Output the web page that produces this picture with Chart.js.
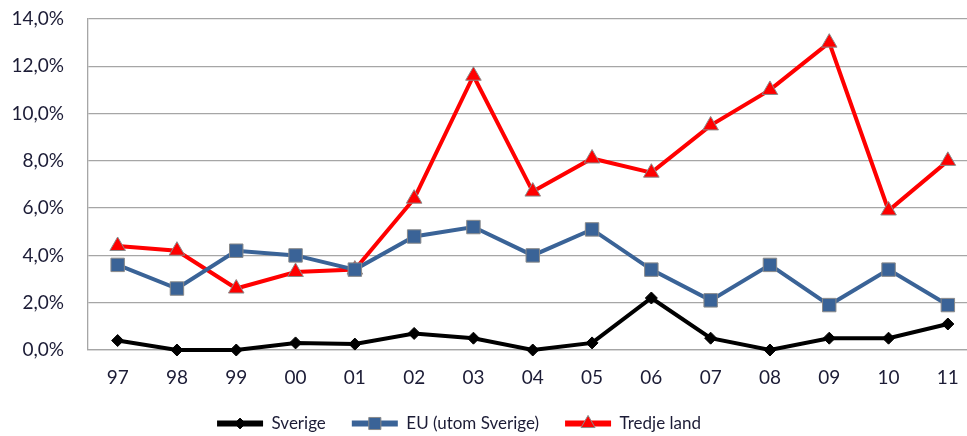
<!DOCTYPE html>
<html><head><meta charset="utf-8">
<script src="https://cdn.jsdelivr.net/npm/chart.js@4/dist/chart.umd.min.js"></script>
<style>html,body{margin:0;padding:0;overflow:hidden;background:#fff;width:967px;height:436px}#wrap{width:988px;height:436px}</style>
</head><body><div id="wrap"><canvas id="c" width="988" height="436"></canvas></div>
<script>
const years = ["97","98","99","00","01","02","03","04","05","06","07","08","09","10","11"];
const sverige = [0.4,0.0,0.0,0.3,0.25,0.7,0.5,0.0,0.3,2.2,0.5,0.0,0.5,0.5,1.1];
const eu = [3.6,2.6,4.2,4.0,3.4,4.8,5.2,4.0,5.1,3.4,2.1,3.6,1.9,3.4,1.9];
const tredje = [4.4,4.2,2.6,3.3,3.4,6.4,11.6,6.7,8.1,7.5,9.5,11.0,13.0,5.9,8.0];
const seriesNames = ["Sverige","EU (utom Sverige)","Tredje land"];
const yMin = 0, yMax = 14, yStep = 2;

const FONT = 'Lato, "Open Sans", sans-serif';
const TXT = '#1c1c36';
const GRID = '#a6a6a6';
const LEGEND_SHIFT = 35;
const LEGEND_HEIGHT = 47;

const specs = [
  {data: sverige, color:'#000000', style:'rectRot', r:6, border:'#000000'},
  {data: eu, color:'#3a6397', style:'rect', r:9.5, border:'#8a8a8a'},
  {data: tredje, color:'#ff0000', style:'triangle', r:9, border:'#8a8a8a'}
];

function markerPath(ctx, style, r, x, y){
  ctx.beginPath();
  if(style==='rectRot'){
    ctx.moveTo(x, y-r); ctx.lineTo(x+r, y); ctx.lineTo(x, y+r); ctx.lineTo(x-r, y);
  } else if(style==='rect'){
    const s = r*Math.SQRT1_2; ctx.rect(x-s, y-s, 2*s, 2*s);
  } else {
    ctx.moveTo(x, y-r);
    ctx.lineTo(x+Math.sin(Math.PI*2/3)*r, y+r/2);
    ctx.lineTo(x-Math.sin(Math.PI*2/3)*r, y+r/2);
  }
  ctx.closePath();
}

const legendTweak = {
  id:'legendTweak',
  afterInit(chart){
    const lg = chart.legend; if(!lg) return;
    const orig = lg.fit.bind(lg);
    lg.fit = function(){ orig(); this.height = LEGEND_HEIGHT; };
  },
  afterUpdate(chart){
    const lg = chart.legend; if(!lg) return;
    lg.left -= LEGEND_SHIFT; lg.right -= LEGEND_SHIFT;
    (lg.legendHitBoxes || []).forEach(hb => { hb.left -= LEGEND_SHIFT; });
  },
  afterDraw(chart){
    const lg = chart.legend; if(!lg || !lg.legendHitBoxes) return;
    const ctx = chart.ctx;
    const bw = lg.options.labels.boxWidth;
    lg.legendHitBoxes.forEach((hb,i)=>{
      const s = specs[i];
      const cx = hb.left + bw/2, cy = hb.top + hb.height/2;
      ctx.save();
      ctx.fillStyle = s.color; ctx.strokeStyle = s.border; ctx.lineWidth = 1;
      markerPath(ctx, s.style, s.r*0.9, cx, cy);
      ctx.fill(); ctx.stroke();
      ctx.restore();
    });
  }
};

new Chart(document.getElementById('c'),{
  type:'line',
  data:{
    labels: years,
    datasets: specs.map((s,i)=>({
      label: seriesNames[i],
      data: s.data,
      borderColor: s.color,
      backgroundColor: s.color,
      borderWidth: 4,
      pointStyle: s.style,
      pointRadius: s.r,
      pointBackgroundColor: s.color,
      pointBorderColor: s.border,
      pointBorderWidth: 1,
      tension: 0,
      clip: false
    }))
  },
  options:{
    responsive:false,
    animation:false,
    layout:{padding:{top:19,right:0,bottom:0,left:0}},
    plugins:{
      tooltip:{enabled:false},
      legend:{
        position:'bottom',
        labels:{
          font:{family:FONT,size:17},
          color:TXT,
          boxWidth:46,
          boxHeight:6,
          padding:26,
          generateLabels(chart){
            return chart.data.datasets.map((d,i)=>({
              text:d.label, fillStyle:d.borderColor, strokeStyle:d.borderColor,
              lineWidth:0, hidden:false, datasetIndex:i, fontColor:TXT
            }));
          }
        }
      }
    },
    scales:{
      x:{
        offset:true,
        grid:{display:false,drawTicks:false},
        border:{display:true,color:GRID,width:1.3},
        ticks:{font:{family:FONT,size:19},color:TXT,padding:16,maxRotation:0},
        afterFit(scale){scale.height=39; scale.paddingLeft=0; scale.paddingRight=0;}
      },
      y:{
        min:yMin,max:yMax,
        grid:{color:GRID,lineWidth:1.3,drawTicks:false},
        border:{display:true,color:GRID,width:1.3},
        ticks:{stepSize:yStep,font:{family:FONT,size:19},color:TXT,padding:24,
          callback:v=>v.toFixed(1).replace('.',',')+'%'},
        afterFit(scale){scale.width=88; scale.paddingTop=0; scale.paddingBottom=0;}
      }
    }
  },
  plugins:[legendTweak]
});
</script></body></html>
